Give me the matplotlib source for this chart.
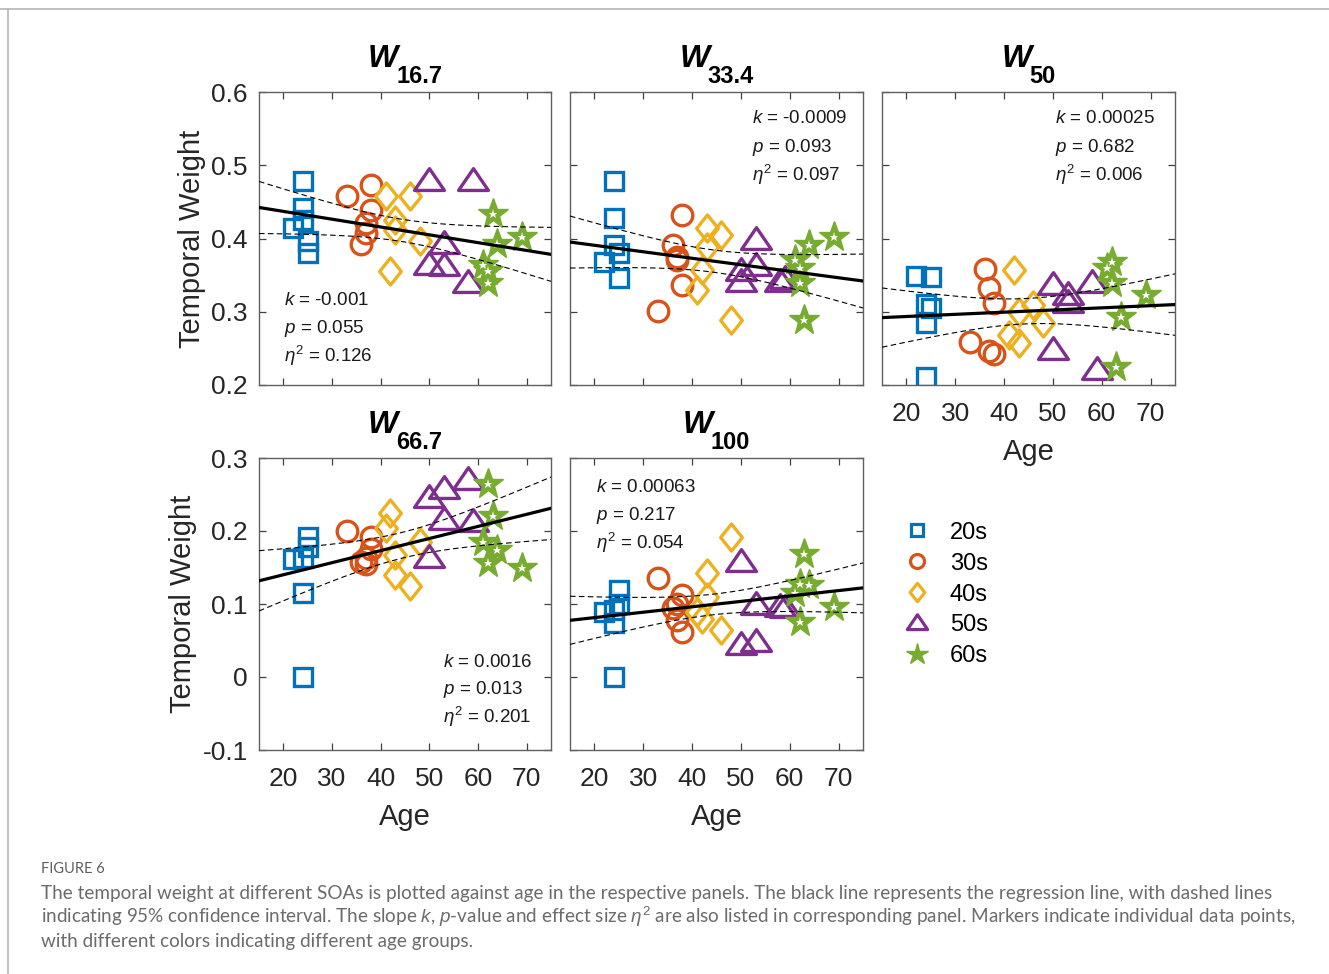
import numpy as np
import matplotlib
matplotlib.use('Agg')
import matplotlib.pyplot as plt
from matplotlib.lines import Line2D
from matplotlib.path import Path
from matplotlib.ticker import FormatStrFormatter
from matplotlib.transforms import offset_copy

plt.rcParams['font.family'] = ['Liberation Sans', 'DejaVu Sans']
plt.rcParams['axes.unicode_minus'] = False
plt.rcParams['mathtext.fontset'] = 'custom'
plt.rcParams['mathtext.rm'] = 'Liberation Sans'
plt.rcParams['mathtext.it'] = 'Liberation Sans:italic'
plt.rcParams['mathtext.bf'] = 'Liberation Sans:bold'

# %%
# ages of the subjects in each group (same subjects in every panel)
age_20s = [22, 24, 24, 24, 25, 25]
age_30s = [33, 36, 37, 37, 38, 38]
age_40s = [41, 42, 43, 43, 46, 48]
age_50s = [50, 50, 53, 53, 58, 59]
age_60s = [61, 62, 62, 63, 64, 69]

# temporal weights, per panel and group
w167_20s = [0.415, 0.479, 0.441, 0.425, 0.396, 0.380]
w167_30s = [0.458, 0.393, 0.407, 0.421, 0.473, 0.439]
w167_40s = [0.458, 0.355, 0.412, 0.425, 0.458, 0.396]
w167_50s = [0.478, 0.364, 0.393, 0.362, 0.339, 0.478]
w167_60s = [0.364, 0.339, 0.355, 0.434, 0.393, 0.402]

w334_20s = [0.368, 0.478, 0.428, 0.391, 0.380, 0.346]
w334_30s = [0.301, 0.391, 0.375, 0.370, 0.432, 0.337]
w334_40s = [0.330, 0.357, 0.414, 0.389, 0.405, 0.289]
w334_50s = [0.355, 0.341, 0.398, 0.362, 0.341, 0.345]
w334_60s = [0.371, 0.339, 0.360, 0.289, 0.391, 0.402]

w50_20s = [0.349, 0.311, 0.284, 0.211, 0.347, 0.305]
w50_30s = [0.259, 0.359, 0.332, 0.247, 0.312, 0.243]
w50_40s = [0.268, 0.357, 0.300, 0.257, 0.309, 0.284]
w50_50s = [0.337, 0.248, 0.323, 0.312, 0.339, 0.220]
w50_60s = [0.360, 0.368, 0.339, 0.225, 0.293, 0.323]

w667_20s = [0.162, 0.163, 0.115, 0.000, 0.192, 0.178]
w667_30s = [0.200, 0.158, 0.155, 0.163, 0.192, 0.175]
w667_40s = [0.204, 0.224, 0.167, 0.140, 0.124, 0.185]
w667_50s = [0.245, 0.163, 0.258, 0.215, 0.270, 0.213]
w667_60s = [0.185, 0.265, 0.156, 0.220, 0.174, 0.149]

w100_20s = [0.089, 0.092, 0.074, 0.000, 0.119, 0.100]
w100_30s = [0.136, 0.094, 0.078, 0.100, 0.112, 0.062]
w100_40s = [0.089, 0.080, 0.142, 0.110, 0.064, 0.192]
w100_50s = [0.158, 0.044, 0.099, 0.048, 0.096, 0.094]
w100_60s = [0.115, 0.128, 0.076, 0.168, 0.126, 0.096]

soa_labels = ['16.7', '33.4', '50', '66.7', '100']
k_text = ['-0.001', '-0.0009', '0.00025', '0.0016', '0.00063']
p_text = ['0.055', '0.093', '0.682', '0.013', '0.217']
eta_text = ['0.126', '0.097', '0.006', '0.201', '0.054']
group_labels = ['20s', '30s', '40s', '50s', '60s']

t_crit = 2.048  # df = 28

# %%
ages = [age_20s, age_30s, age_40s, age_50s, age_60s]
panel_data = [
    [w167_20s, w167_30s, w167_40s, w167_50s, w167_60s],
    [w334_20s, w334_30s, w334_40s, w334_50s, w334_60s],
    [w50_20s, w50_30s, w50_40s, w50_50s, w50_60s],
    [w667_20s, w667_30s, w667_40s, w667_50s, w667_60s],
    [w100_20s, w100_30s, w100_40s, w100_50s, w100_60s],
]

colors = ['#0072BD', '#D95319', '#EDB120', '#7E2F8E', '#77AC30']
diamond = Path([(0, 1), (0.8, 0), (0, -1), (-0.8, 0), (0, 1)], closed=True)
triangle = Path([(0, 0.86), (1, -0.6), (-1, -0.6), (0, 0.86)], closed=True)
markers = ['s', 'o', diamond, triangle, '*']
msizes = [13.5, 14.8, 19.5, 21.5, 23]

W, H = 1329, 974
fig = plt.figure(figsize=(W / 100, H / 100), dpi=100)
renderer = fig.canvas.get_renderer()

rects = [(259, 92, 292, 293), (570, 92, 293, 293), (882, 92, 293, 293),
         (259, 458, 292, 292), (570, 458, 293, 292)]
ylims = [(0.2, 0.6)] * 3 + [(-0.1, 0.3)] * 2

# text anchor (axes fraction) for the stats block
stat_pos = [(0.087, [0.273, 0.1775, 0.0785]),
            (0.621, [0.893, 0.796, 0.697]),
            (0.589, [0.893, 0.796, 0.697]),
            (0.631, [0.285, 0.191, 0.0914]),
            (0.090, [0.885, 0.788, 0.688])]

for i, (l, t, w, h) in enumerate(rects):
    ax = fig.add_axes([l / W, 1 - (t + h) / H, w / W, h / H])
    for g in range(5):
        if g == 4:
            ax.plot(ages[g], panel_data[i][g], ls='none', marker='*', ms=msizes[g],
                    mfc=colors[g], mec=colors[g], mew=1.0, zorder=2)
            ax.plot(ages[g], panel_data[i][g], ls='none', marker='*', ms=6.5,
                    mfc='white', mec='white', mew=0, zorder=2)
        else:
            ax.plot(ages[g], panel_data[i][g], ls='none', marker=markers[g], ms=msizes[g],
                    mfc='none', mec=colors[g], mew=2.4, zorder=2)

    # regression with 95% confidence band
    x = np.concatenate(ages).astype(float)
    y = np.concatenate(panel_data[i])
    b, a = np.polyfit(x, y, 1)
    n = len(x)
    s = np.sqrt(np.sum((y - (a + b * x)) ** 2) / (n - 2))
    xs = np.linspace(15, 75, 200)
    hw = t_crit * s * np.sqrt(1 / n + (xs - x.mean()) ** 2 / np.sum((x - x.mean()) ** 2))
    ax.plot(xs, a + b * xs, color='black', lw=2.3, zorder=3)
    ax.plot(xs, a + b * xs + hw, color='black', lw=0.8, ls=(0, (5, 3)), zorder=3)
    ax.plot(xs, a + b * xs - hw, color='black', lw=0.8, ls=(0, (5, 3)), zorder=3)

    ax.set_xlim(15, 75)
    ax.set_ylim(*ylims[i])
    ax.set_xticks([20, 30, 40, 50, 60, 70])
    ax.set_yticks(np.arange(ylims[i][0], ylims[i][1] + 0.001, 0.1))
    ax.yaxis.set_major_formatter(FormatStrFormatter('%g'))
    ax.tick_params(direction='in', length=5, width=0.9, top=True, right=True,
                   labelsize=19, colors='#404040', labelcolor='#262626')
    ax.tick_params(axis='x', pad=12)
    ax.tick_params(axis='y', pad=8)
    for sp in ax.spines.values():
        sp.set_color('#606060')
        sp.set_linewidth(1.0)

    if i in (0, 3):
        ax.set_ylabel('Temporal Weight', fontsize=21, color='#262626', labelpad=4)
    else:
        ax.set_yticklabels([])
    if i in (2, 3, 4):
        ax.set_xlabel('Age', fontsize=21, color='#262626', labelpad=9)
    else:
        ax.set_xticklabels([])

    # title W_{soa}: bold italic W with a large bold subscript, centred as a pair
    tw = ax.text(0.5, 1.0, 'W', transform=offset_copy(ax.transAxes, fig, 0, 25, units='dots'),
                 fontsize=23, fontweight='bold', fontstyle='italic', ha='left', va='baseline')
    ts = ax.text(0.5, 1.0, soa_labels[i], transform=offset_copy(ax.transAxes, fig, 0, 9, units='dots'),
                 fontsize=17, fontweight='bold', ha='left', va='baseline')
    ww = tw.get_window_extent(renderer).width
    sw = ts.get_window_extent(renderer).width
    x0 = -(ww + sw - 2) / 2
    tw.set_transform(offset_copy(ax.transAxes, fig, x0, 25, units='dots'))
    ts.set_transform(offset_copy(ax.transAxes, fig, x0 + ww - 2, 9, units='dots'))

    sx, sys_ = stat_pos[i]
    ax.text(sx, sys_[0], r'$k$ = ' + k_text[i], transform=ax.transAxes, fontsize=13.5,
            va='baseline', color='#1a1a1a')
    ax.text(sx, sys_[1], r'$p$ = ' + p_text[i], transform=ax.transAxes, fontsize=13.5,
            va='baseline', color='#1a1a1a')
    ax.text(sx, sys_[2], r'$\eta^2$ = ' + eta_text[i], transform=ax.transAxes, fontsize=13.5,
            va='baseline', color='#1a1a1a')

# legend
handles = []
for g in range(5):
    if g == 4:
        handles.append(Line2D([], [], ls='none', marker='*', ms=16, mfc=colors[g],
                              mec=colors[g], mew=1.0))
    else:
        handles.append(Line2D([], [], ls='none', marker=markers[g], ms=msizes[g] * 0.68,
                              mfc='none', mec=colors[g], mew=2.3))
fig.legend(handles, group_labels, loc='center left', bbox_to_anchor=(905 / W, 1 - 594.5 / H),
           frameon=False, fontsize=17, handlelength=1.0, handletextpad=0.9,
           labelspacing=0.38, borderpad=0, borderaxespad=0)

# page frame and caption
fig.add_artist(Line2D([0, 1], [1 - 9 / H, 1 - 9 / H], color='#b5b5b5', lw=1.2))
fig.add_artist(Line2D([8 / W, 8 / W], [0, 1 - 9 / H], color='#b5b5b5', lw=1.2))

fig.text(41 / W, 1 - 869 / H, 'FIGURE 6', fontsize=10.5, color='#5e5e5e', va='center',
         family='Lato')
cap1 = ('The temporal weight at different SOAs is plotted against age in the respective panels. '
        'The black line represents the regression line, with dashed lines')
cap2 = (r'indicating 95% confidence interval. The slope $k$, $p$-value and effect size $\eta^2$ '
        'are also listed in corresponding panel. Markers indicate individual data points,')
cap3 = 'with different colors indicating different age groups.'
for j, c in enumerate([cap1, cap2, cap3]):
    fig.text(41 / W, 1 - (893 + 24 * j) / H, c, fontsize=13.6, color='#6b6b6b',
             va='center', family='Lato')

fig.savefig('out.png', dpi=100)
